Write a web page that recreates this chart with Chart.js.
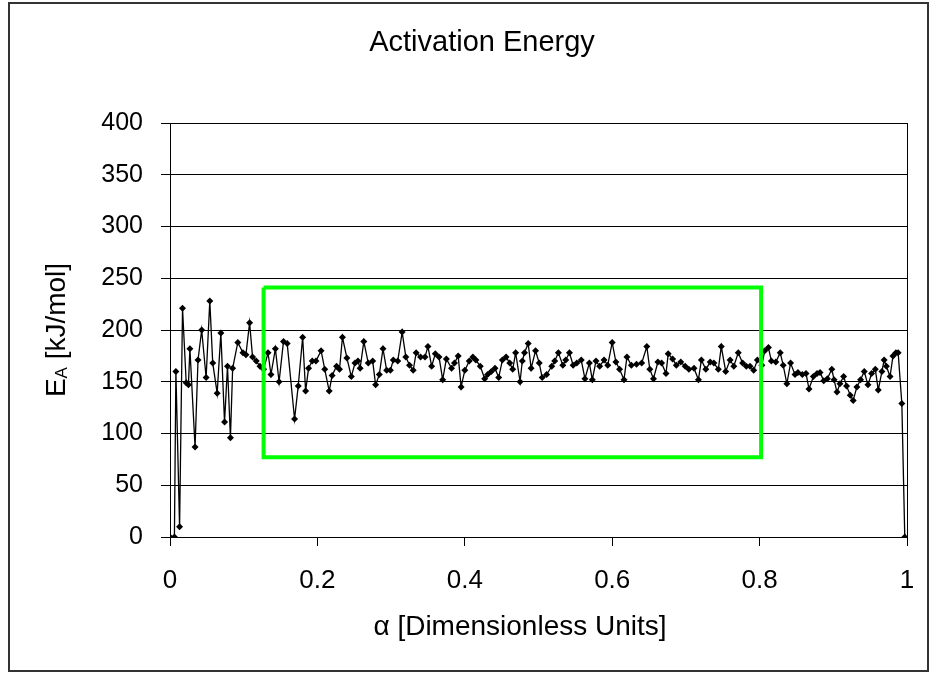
<!DOCTYPE html>
<html>
<head>
<meta charset="utf-8">
<script src="https://cdn.jsdelivr.net/npm/chart.js@4.4.1/dist/chart.umd.min.js"></script>
<style>
  html, body { margin: 0; padding: 0; background: #fff; }
  #wrap { width: 943px; height: 674px; }
</style>
</head>
<body>
<div id="wrap"><canvas id="chart" width="943" height="674"></canvas></div>
<script>
// conversion (alpha) and activation energy (kJ/mol)
const alpha = [
  0.000, 0.006, 0.008, 0.013, 0.017, 0.022, 0.025, 0.027, 0.034, 0.038,
  0.043, 0.049, 0.054, 0.058, 0.064, 0.069, 0.074, 0.078, 0.082, 0.085,
  0.092, 0.099, 0.103, 0.108, 0.112, 0.117, 0.122, 0.127, 0.133, 0.137,
  0.143, 0.148, 0.154, 0.159, 0.169, 0.174, 0.180, 0.184, 0.188, 0.193,
  0.198, 0.205, 0.210, 0.216, 0.220, 0.226, 0.230, 0.234, 0.240, 0.246,
  0.251, 0.255, 0.258, 0.263, 0.269, 0.275, 0.279, 0.284, 0.289, 0.294,
  0.299, 0.303, 0.309, 0.315, 0.320, 0.325, 0.330, 0.334, 0.340, 0.346,
  0.350, 0.355, 0.360, 0.365, 0.370, 0.375, 0.382, 0.386, 0.391, 0.395,
  0.400, 0.406, 0.411, 0.415, 0.421, 0.427, 0.431, 0.436, 0.441, 0.446,
  0.451, 0.456, 0.461, 0.465, 0.469, 0.475, 0.478, 0.481, 0.486, 0.490,
  0.496, 0.501, 0.505, 0.511, 0.518, 0.522, 0.527, 0.533, 0.537, 0.542,
  0.547, 0.552, 0.558, 0.563, 0.569, 0.573, 0.578, 0.583, 0.589, 0.594,
  0.600, 0.605, 0.610, 0.616, 0.620, 0.626, 0.633, 0.640, 0.647, 0.651,
  0.656, 0.662, 0.667, 0.673, 0.676, 0.682, 0.687, 0.693, 0.699, 0.704,
  0.711, 0.717, 0.721, 0.727, 0.733, 0.738, 0.744, 0.748, 0.754, 0.760,
  0.765, 0.771, 0.777, 0.782, 0.787, 0.792, 0.797, 0.803, 0.807, 0.812,
  0.816, 0.822, 0.828, 0.832, 0.837, 0.842, 0.848, 0.852, 0.858, 0.863,
  0.867, 0.873, 0.878, 0.882, 0.887, 0.892, 0.898, 0.901, 0.905, 0.909,
  0.914, 0.918, 0.923, 0.927, 0.932, 0.937, 0.942, 0.947, 0.952, 0.957,
  0.961, 0.966, 0.969, 0.972, 0.977, 0.981, 0.985, 0.988, 0.993, 0.997
];
const energy = [
    0,   0, 160,  10, 221, 149, 147, 182,  87, 171,
  200, 154, 228, 168, 139, 197, 111, 165,  96, 163,
  188, 178, 176, 207, 174, 170, 165, 162, 178, 157,
  182, 150, 189, 187, 114, 146, 193, 141, 163, 170,
  170, 180, 162, 141, 156, 165, 162, 193, 173, 155,
  168, 170, 163, 189, 168, 170, 147, 157, 182, 161,
  161, 171, 170, 198, 174, 166, 161, 178, 174, 174,
  184, 165, 177, 174, 152, 172, 163, 168, 175, 145,
  161, 170, 174, 171, 165, 153, 157, 160, 163, 154,
  171, 174, 168, 162, 178, 150, 170, 178, 187, 163,
  180, 168, 154, 157, 165, 170, 178, 166, 171, 178,
  166, 168, 171, 153, 168, 152, 170, 165, 171, 166,
  188, 169, 162, 152, 174, 166, 167, 168, 184, 162,
  153, 169, 168, 158, 177, 172, 166, 169, 165, 162,
  163, 152, 171, 162, 169, 168, 162, 184, 160, 171,
  165, 178, 168, 165, 165, 161, 171, 166, 180, 183,
  170, 169, 178, 166, 148, 168, 157, 159, 157, 158,
  143, 155, 158, 159, 151, 153, 162, 152, 140, 148,
  155, 146, 137, 132, 145, 152, 160, 147, 158, 162,
  142, 160, 171, 165, 155, 175, 178, 178, 129,   0
];

// highlighted region (outline)
const boxAlpha  = [0.127, 0.802, 0.802, 0.127, 0.127];
const boxEnergy = [241, 241, 77, 77, 241];

const xTicks = [0, 0.2, 0.4, 0.6, 0.8, 1];
const yTicks = [0, 50, 100, 150, 200, 250, 300, 350, 400];

const FONT = "'Liberation Sans', Arial, sans-serif";

const pageFrame = {
  id: 'pageFrame',
  beforeDraw(chart) {
    const c = chart.ctx;
    c.save();
    c.fillStyle = '#fff';
    c.fillRect(0, 0, chart.width, chart.height);
    c.strokeStyle = '#333';
    c.lineWidth = 2;
    c.strokeRect(9, 3, 919, 668);
    c.restore();
  }
};

const plotBorder = {
  id: 'plotBorder',
  beforeDatasetsDraw(chart) {
    const { left, top, right, bottom } = chart.chartArea;
    const c = chart.ctx;
    c.save();
    c.strokeStyle = '#000';
    c.lineWidth = 1;
    c.strokeRect(Math.round(left) + 0.5, Math.round(top) + 0.5,
                 Math.round(right - left), Math.round(bottom - top));
    c.restore();
  }
};

// chart title, x title, and y title with subscript A
const labels = {
  id: 'labels',
  afterDraw(chart) {
    const { top, bottom } = chart.chartArea;
    const c = chart.ctx;
    c.save();
    c.fillStyle = '#000';
    c.textBaseline = 'middle';
    c.textAlign = 'center';

    c.font = `29px ${FONT}`;
    c.fillText('Activation Energy', 482, 43);

    c.font = `28px ${FONT}`;
    c.fillText('α [Dimensionless Units]', 520, 627);

    const big = `28px ${FONT}`, small = `17px ${FONT}`;
    c.font = big;
    const wE = c.measureText('E').width;
    const wRest = c.measureText(' [kJ/mol]').width;
    c.font = small;
    const wA = c.measureText('A').width;
    const total = wE + wA + wRest;
    c.translate(57, (top + bottom) / 2);
    c.rotate(-Math.PI / 2);
    let x = -total / 2;
    c.textAlign = 'left';
    c.font = big;
    c.fillText('E', x, 0);
    x += wE;
    c.font = small;
    c.fillText('A', x, 5);
    x += wA;
    c.font = big;
    c.fillText(' [kJ/mol]', x, 0);
    c.restore();
  }
};

new Chart(document.getElementById('chart'), {
  type: 'scatter',
  data: {
    datasets: [
      {
        label: 'box',
        data: boxAlpha.map((a, i) => ({ x: a, y: boxEnergy[i] })),
        showLine: true,
        borderColor: '#00ff00',
        borderWidth: 4,
        pointRadius: 0,
        order: 0
      },
      {
        label: 'EA',
        data: alpha.map((a, i) => ({ x: a, y: energy[i] })),
        showLine: true,
        borderColor: '#000',
        borderWidth: 1.3,
        pointStyle: 'rectRot',
        pointRadius: 3.5,
        pointBackgroundColor: '#000',
        pointBorderColor: '#000',
        pointBorderWidth: 0,
        order: 1
      }
    ]
  },
  options: {
    responsive: false,
    animation: false,
    events: [],
    layout: { padding: { left: 0, right: 36, top: 123, bottom: 0 } },
    plugins: {
      legend: { display: false },
      tooltip: { enabled: false },
      title: { display: false }
    },
    scales: {
      x: {
        type: 'linear',
        min: 0,
        max: 1,
        afterBuildTicks: s => { s.ticks = xTicks.map(v => ({ value: v })); },
        afterFit: s => { s.height = 137; },
        grid: { drawOnChartArea: false, color: '#000', tickLength: 9, tickColor: '#000' },
        border: { color: '#000' },
        ticks: {
          color: '#000',
          font: { family: FONT, size: 26 },
          padding: 19,
          callback: v => String(v)
        }
      },
      y: {
        min: 0,
        max: 400,
        afterBuildTicks: s => { s.ticks = yTicks.map(v => ({ value: v })); },
        afterFit: s => { s.width = 170; },
        grid: { color: '#000', lineWidth: 1, tickLength: 9, tickColor: '#000' },
        border: { color: '#000' },
        ticks: {
          color: '#000',
          font: { family: FONT, size: 25 },
          padding: 18
        }
      }
    }
  },
  plugins: [pageFrame, plotBorder, labels]
});
</script>
</body>
</html>
